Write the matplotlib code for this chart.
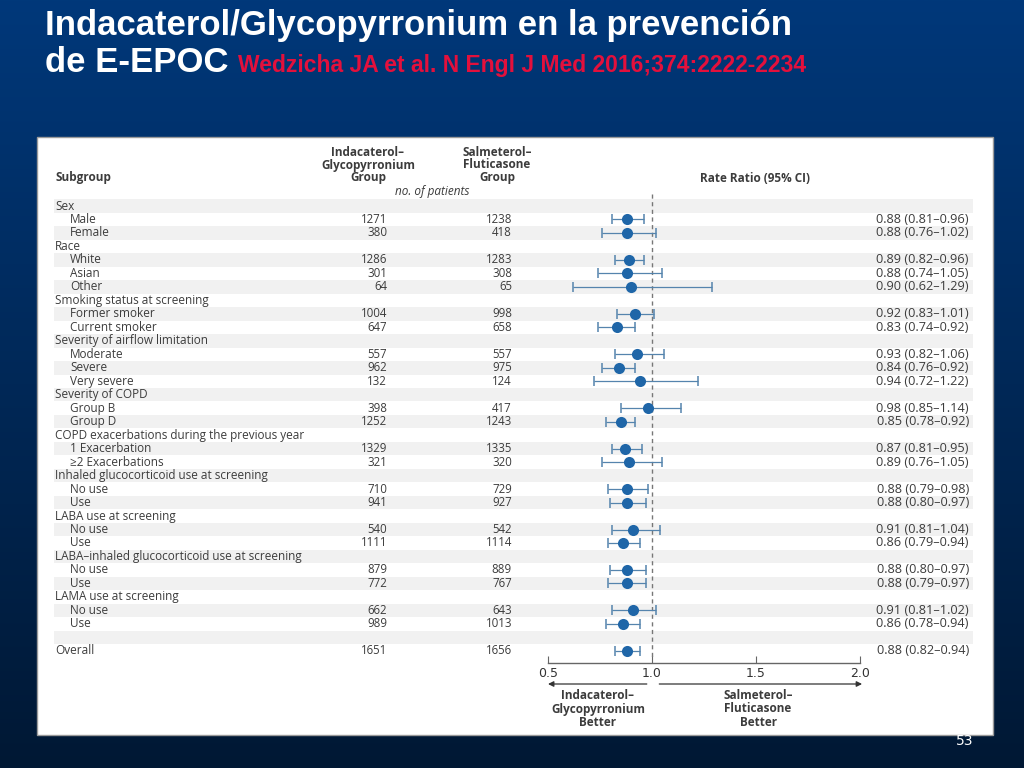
import numpy as np
import matplotlib.pyplot as plt
from matplotlib import transforms
from matplotlib.patches import Rectangle

# rows of the forest plot; None marks a heading row
row_labels = ["Sex", "Male", "Female",
              "Race", "White", "Asian", "Other",
              "Smoking status at screening", "Former smoker", "Current smoker",
              "Severity of airflow limitation", "Moderate", "Severe", "Very severe",
              "Severity of COPD", "Group B", "Group D",
              "COPD exacerbations during the previous year", "1 Exacerbation", "\u22652 Exacerbations",
              "Inhaled glucocorticoid use at screening", "No use", "Use",
              "LABA use at screening", "No use", "Use",
              "LABA\u2013inhaled glucocorticoid use at screening", "No use", "Use",
              "LAMA use at screening", "No use", "Use",
              "", "Overall"]
n_indacaterol = [None, 1271, 380, None, 1286, 301, 64, None, 1004, 647,
                 None, 557, 962, 132, None, 398, 1252, None, 1329, 321,
                 None, 710, 941, None, 540, 1111, None, 879, 772,
                 None, 662, 989, None, 1651]
n_salmeterol = [None, 1238, 418, None, 1283, 308, 65, None, 998, 658,
                None, 557, 975, 124, None, 417, 1243, None, 1335, 320,
                None, 729, 927, None, 542, 1114, None, 889, 767,
                None, 643, 1013, None, 1656]
ratio = [None, 0.88, 0.88, None, 0.89, 0.88, 0.90, None, 0.92, 0.83,
         None, 0.93, 0.84, 0.94, None, 0.98, 0.85, None, 0.87, 0.89,
         None, 0.88, 0.88, None, 0.91, 0.86, None, 0.88, 0.88,
         None, 0.91, 0.86, None, 0.88]
ci_low = [None, 0.81, 0.76, None, 0.82, 0.74, 0.62, None, 0.83, 0.74,
          None, 0.82, 0.76, 0.72, None, 0.85, 0.78, None, 0.81, 0.76,
          None, 0.79, 0.80, None, 0.81, 0.79, None, 0.80, 0.79,
          None, 0.81, 0.78, None, 0.82]
ci_high = [None, 0.96, 1.02, None, 0.96, 1.05, 1.29, None, 1.01, 0.92,
           None, 1.06, 0.92, 1.22, None, 1.14, 0.92, None, 0.95, 1.05,
           None, 0.98, 0.97, None, 1.04, 0.94, None, 0.97, 0.97,
           None, 1.02, 0.94, None, 0.94]
x_ticks = [0.5, 1.0, 1.5, 2.0]

W, H = 1024, 768
fig = plt.figure(figsize=(W / 100, H / 100), dpi=100)

# background gradient
bg = fig.add_axes([0, 0, 1, 1], zorder=-10)
grad = np.linspace(0, 1, 256).reshape(-1, 1)
top = np.array([0x00, 0x38, 0x7a]) / 255
bot = np.array([0x00, 0x18, 0x34]) / 255
img = top + (bot - top) * grad[:, :, None]
bg.imshow(img, aspect="auto", extent=[0, 1, 0, 1])
bg.axis("off")

title_font = ["Liberation Sans Narrow", "Liberation Sans", "DejaVu Sans"]
fig.text(45 / W, 1 - 35 / H, "Indacaterol/Glycopyrronium en la prevención",
         color="white", fontsize=25, fontweight="bold", family=title_font, va="baseline")
t = fig.text(45 / W, 1 - 72 / H, "de E-EPOC ", color="white", fontsize=25,
             fontweight="bold", family=title_font, va="baseline")
fig.canvas.draw()
bb = t.get_window_extent()
fig.text(bb.x1 / W, 1 - 72 / H, "Wedzicha JA et al. N Engl J Med 2016;374:2222-2234",
         color="#e3103c", fontsize=16.5, fontweight="bold", family=title_font, va="baseline")

# white panel
fig.patches.append(Rectangle((37 / W, 1 - 735 / H), (993 - 37) / W, (735 - 137) / H,
                             transform=fig.transFigure, facecolor="white",
                             edgecolor="#9a9a9a", linewidth=1, zorder=-5))

fig.text(965 / W, 1 - 741 / H, "53", color="white", fontsize=10, ha="center", va="center")

# forest axes: x from 0.5 at px 548 to 2.0 at px 860
row0, step = 206, 13.48
y_bot = (663 - row0) / step
y_top = (140 - row0) / step
ax = fig.add_axes([548 / W, 1 - 663 / H, (860 - 548) / W, (663 - 140) / H])
ax.set_xlim(0.5, 2.0)
ax.set_ylim(y_bot, y_top)
ax.patch.set_alpha(0)
for s in ["top", "left", "right"]:
    ax.spines[s].set_visible(False)
ax.spines["bottom"].set_color("#666666")
ax.spines["bottom"].set_linewidth(1)
ax.set_yticks([])
ax.set_xticks(x_ticks)
ax.set_xticklabels(["0.5", "1.0", "1.5", "2.0"])
ax.tick_params(axis="x", direction="in", length=5, color="#666666", labelsize=9,
               labelcolor="#333333", pad=3)

text_font = ["Open Sans", "DejaVu Sans"]
txt_color = "#3c3c3c"
fs = 8.5
mix = transforms.blended_transform_factory(fig.transFigure, ax.transData)
x0 = (54 - 548) / 312
x1 = (973 - 548) / 312

rows = np.arange(len(row_labels))
for i in rows:
    if i % 2 == 0:
        ax.axhspan(i - 0.5, i + 0.5, xmin=x0, xmax=x1, facecolor="#f1f1f1",
                   edgecolor="none", clip_on=False, zorder=0)
    head = ratio[i] is None
    lx = 55 if head or row_labels[i] == "Overall" else 70
    ax.text(lx / W, i, row_labels[i], transform=mix, ha="left", va="center",
            fontsize=fs, color=txt_color, family=text_font)
    if n_indacaterol[i] is not None:
        ax.text(387 / W, i, str(n_indacaterol[i]), transform=mix, ha="right",
                va="center", fontsize=8.3, color=txt_color, family=text_font)
        ax.text(512 / W, i, str(n_salmeterol[i]), transform=mix, ha="right",
                va="center", fontsize=8.3, color=txt_color, family=text_font)
    if not head:
        ax.text(969 / W, i, f"{ratio[i]:.2f} ({ci_low[i]:.2f}\u2013{ci_high[i]:.2f})",
                transform=mix, ha="right", va="center", fontsize=9.2,
                color=txt_color, family=text_font)

idx = [i for i in rows if ratio[i] is not None]
est = np.array([ratio[i] for i in idx])
lo = np.array([ci_low[i] for i in idx])
hi = np.array([ci_high[i] for i in idx])
ax.errorbar(est, idx, xerr=[est - lo, hi - est], fmt="none", ecolor="#5584ad",
            elinewidth=0.9, capsize=3.5, capthick=1.1, zorder=3)
ax.plot(est, idx, "o", color="#1f66a8", markersize=8, markeredgewidth=0, zorder=4)
ax.vlines(1.0, -0.9, y_bot - 0.2, colors="#777777", linestyles=(0, (3, 2.5)),
          linewidth=1, zorder=2)

# column headings
hy = [(152 - row0) / step, (165 - row0) / step, (178 - row0) / step]
for k, s in enumerate(["Indacaterol\u2013", "Glycopyrronium", "Group"]):
    ax.text(368 / W, hy[k], s, transform=mix, ha="center", va="center", fontsize=fs,
            fontweight="bold", color=txt_color, family=text_font)
for k, s in enumerate(["Salmeterol\u2013", "Fluticasone", "Group"]):
    ax.text(497 / W, hy[k], s, transform=mix, ha="center", va="center", fontsize=fs,
            fontweight="bold", color=txt_color, family=text_font)
ax.text(55 / W, hy[2], "Subgroup", transform=mix, ha="left", va="center", fontsize=fs,
        fontweight="bold", color=txt_color, family=text_font)
ax.text(755 / W, hy[2], "Rate Ratio (95% CI)", transform=mix, ha="center", va="center",
        fontsize=fs, fontweight="bold", color=txt_color, family=text_font)
ax.text(432 / W, (192 - row0) / step, "no. of patients", transform=mix, ha="center",
        va="center", fontsize=fs, style="italic", color=txt_color, family=text_font)

# direction arrows and labels below the axis
ay = (684 - row0) / step
ax.annotate("", xy=(0.5, ay), xytext=(0.975, ay), annotation_clip=False,
            arrowprops=dict(arrowstyle="-|>", color="#333333", lw=0.9,
                            mutation_scale=8, shrinkA=0, shrinkB=0))
ax.annotate("", xy=(2.01, ay), xytext=(1.035, ay), annotation_clip=False,
            arrowprops=dict(arrowstyle="-|>", color="#333333", lw=0.9,
                            mutation_scale=8, shrinkA=0, shrinkB=0))
ly = (709 - row0) / step
ax.text(0.74, ly, "Indacaterol\u2013\nGlycopyrronium\nBetter", ha="center", va="center",
        fontsize=fs, fontweight="bold", color=txt_color, family=text_font,
        linespacing=1.05, clip_on=False)
ax.text(1.51, ly, "Salmeterol\u2013\nFluticasone\nBetter", ha="center", va="center",
        fontsize=fs, fontweight="bold", color=txt_color, family=text_font,
        linespacing=1.05, clip_on=False)

fig.savefig("out.png", dpi=100)
